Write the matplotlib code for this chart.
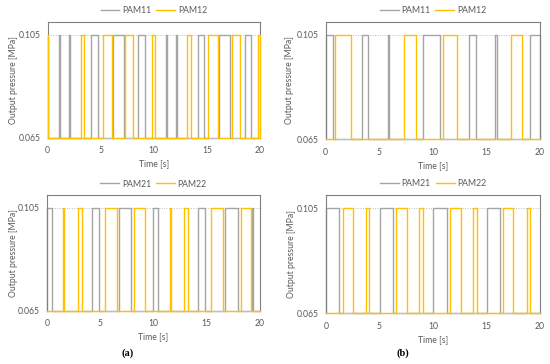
import numpy as np
import matplotlib
matplotlib.use("Agg")
import matplotlib.pyplot as plt

# --- data: intervals (start, end) in seconds where the output is HIGH ---
LOW, HIGH = 0.065, 0.105
T_END = 20

pam11_a = [(1.05, 1.15), (2.05, 2.15), (4.14, 4.71), (6.12, 7.19), (8.54, 9.17),
           (11.15, 11.25), (12.1, 12.2), (14.16, 14.73), (16.17, 17.17), (18.62, 19.12)]
pam12_a = [(0.0, 0.08), (3.11, 3.45), (5.18, 6.03), (7.25, 8.07), (9.80, 10.14),
           (13.16, 13.47), (15.13, 16.08), (17.33, 18.12), (19.78, 20.0)]
pam21_a = [(0.0, 0.5), (4.23, 4.92), (6.79, 7.89), (9.92, 10.42),
           (14.2, 14.8), (16.7, 17.9), (19.25, 19.32)]
pam22_a = [(1.47, 1.63), (2.94, 3.26), (5.48, 6.54), (8.2, 9.2),
           (11.58, 11.67), (12.9, 13.2), (15.4, 16.5), (18.25, 19.2)]

pam11_b = [(0.0, 0.72), (3.42, 3.98), (5.79, 5.94), (9.05, 10.67),
           (13.4, 14.0), (15.8, 15.96), (19.07, 20.0)]
pam12_b = [(0.87, 2.36), (7.31, 8.4), (10.98, 12.29), (17.29, 18.35)]
pam21_b = [(0.0, 1.25), (5.05, 6.3), (10.03, 11.28), (15.0, 16.26)]
pam22_b = [(1.56, 2.55), (3.74, 4.05), (6.54, 7.54), (8.72, 9.1),
           (11.59, 12.59), (13.77, 14.08), (16.5, 17.5), (18.75, 19.07)]

GRAY = '#A5A5A5'
GOLD = '#FFC000'
TXT = '#595959'
FRAME = '#808080'


def step_signal(intervals):
    xs, ys = [0.0], [LOW]
    for s, e in intervals:
        xs += [s, s, e, e]
        ys += [LOW, HIGH, HIGH, LOW]
    xs.append(T_END)
    ys.append(LOW)
    return np.array(xs), np.array(ys)


plt.rcParams['font.family'] = ['Lato', 'DejaVu Sans']

W, H = 550, 364
fig = plt.figure(figsize=(W / 100, H / 100), dpi=100)


def make_ax(left, right, top, bottom):
    return fig.add_axes([left / W, 1 - bottom / H, (right - left) / W, (bottom - top) / H])


# pixel boxes (left, right, top, bottom) and x pixel of the y label
panels = [
    ((47.5, 260, 21.7, 137.7), 14, pam11_a, pam12_a, ('PAM11', 'PAM12')),
    ((325.7, 540, 21.7, 139.3), 290, pam11_b, pam12_b, ('PAM11', 'PAM12')),
    ((47.0, 260, 195, 310.7), 13.5, pam21_a, pam22_a, ('PAM21', 'PAM22')),
    ((326.0, 540, 195, 313.3), 291, pam21_b, pam22_b, ('PAM21', 'PAM22')),
]

FS = 6.2

for box, ylab_x, s1, s2, names in panels:
    ax = make_ax(*box)
    ax.axhline(HIGH, color='#BFBFBF', lw=0.7, ls=(0, (1, 1.5)), zorder=1)
    x1, y1 = step_signal(s1)
    x2, y2 = step_signal(s2)
    ax.plot(x1, y1, color=GRAY, lw=1.0, label=names[0], zorder=2, clip_on=False)
    ax.plot(x2, y2, color=GOLD, lw=1.0, label=names[1], zorder=3, clip_on=False)
    ax.set_xlim(0, 20)
    ax.set_ylim(0.065, 0.11)
    ax.set_xticks([0, 5, 10, 15, 20])
    ax.set_yticks([0.065, 0.105])
    ax.set_yticklabels(['0.065', '0.105'])
    ax.tick_params(axis='x', length=0, labelsize=FS, colors=TXT, pad=6)
    ax.tick_params(axis='y', length=0, labelsize=FS, colors=TXT, pad=5)
    for sp in ax.spines.values():
        sp.set_color(FRAME)
        sp.set_linewidth(0.8)
    ax.spines['bottom'].set_color('#BFBFBF')
    ax.set_xlabel('Time [s]', fontsize=FS, color=TXT, labelpad=3)
    ax.set_ylabel('Output pressure [MPa]', fontsize=FS, color=TXT, va='center')
    ax.yaxis.set_label_coords(-(box[0] - ylab_x) / (box[1] - box[0]), 0.5)
    ax.legend(loc='center', bbox_to_anchor=(0.5, 1.095), ncol=2, frameon=False,
              fontsize=FS, handlelength=2.2, handletextpad=0.3, columnspacing=0.6,
              labelcolor=TXT)

fig.text(128 / W, 1 - 353 / H, '(a)', ha='center', va='center',
         fontsize=7.5, fontweight='bold', family=['Liberation Serif', 'DejaVu Serif'])
fig.text(403 / W, 1 - 353 / H, '(b)', ha='center', va='center',
         fontsize=7.5, fontweight='bold', family=['Liberation Serif', 'DejaVu Serif'])

fig.savefig('out.png', dpi=100)
